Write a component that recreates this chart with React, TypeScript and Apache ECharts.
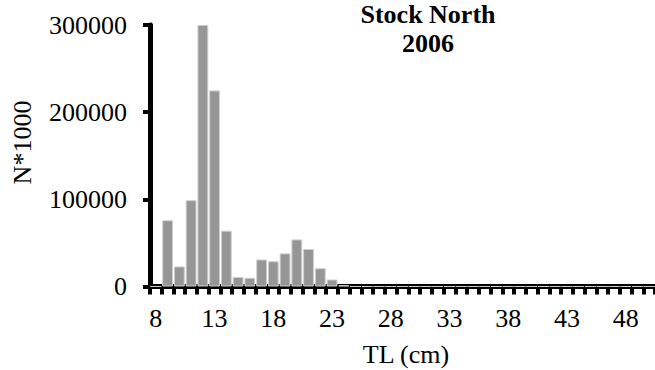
import React, { useEffect, useRef } from "react";
import * as echarts from "echarts";

const lengths = [
  "8", "9", "10", "11", "12", "13", "14", "15", "16", "17", "18", "19", "20", "21",
  "22", "23", "24", "25", "26", "27", "28", "29", "30", "31", "32", "33", "34", "35",
  "36", "37", "38", "39", "40", "41", "42", "43", "44", "45", "46", "47", "48", "49", "50",
];
const counts = [
  0, 76000, 23000, 99000, 300000, 225000, 64000, 11000, 10000, 31000, 29000, 38000,
  54000, 43000, 21000, 8000, 1500, 0, 0, 0, 0, 0, 0, 0, 0, 0, 0, 0, 0, 0, 0, 0, 0,
  0, 0, 0, 0, 0, 0, 0, 0, 0, 0,
];
const yTicks = [0, 100000, 200000, 300000];
const titleText = "Stock North\n2006";
const xName = "TL (cm)";
const yName = "N*1000";

const FONT = "'Liberation Serif', 'Times New Roman', serif";
const FS = 26;

export default function App() {
  const ref = useRef<HTMLDivElement>(null);
  useEffect(() => {
    if (!ref.current) return;
    const chart = echarts.init(ref.current, null, { renderer: "svg" });
    chart.setOption({
      animation: false,
      backgroundColor: "#ffffff",
      textStyle: { fontFamily: FONT, color: "#000" },
      grid: {
        left: 150,
        top: 25,
        width: 505,
        height: 261.5,
        containLabel: false,
        outerBoundsMode: "none",
      },
      graphic: [
        {
          type: "text",
          x: 428,
          y: 0,
          style: {
            text: titleText,
            align: "center",
            verticalAlign: "top",
            lineHeight: 29,
            font: `bold ${FS}px ${FONT}`,
            fill: "#000",
          },
        },
        {
          type: "text",
          x: 22,
          y: 142.5,
          rotation: Math.PI / 2,
          style: {
            text: yName,
            align: "center",
            verticalAlign: "middle",
            font: `${FS}px ${FONT}`,
            fill: "#000",
          },
        },
        {
          type: "text",
          x: 406,
          y: 354,
          style: {
            text: xName,
            align: "center",
            verticalAlign: "middle",
            font: `${FS}px ${FONT}`,
            fill: "#000",
          },
        },
      ],
      xAxis: {
        type: "category",
        data: lengths,
        boundaryGap: true,
        axisLine: { show: true, lineStyle: { color: "#000", width: 5 } },
        axisTick: { show: true, interval: 0, length: 8, lineStyle: { color: "#000", width: 4 } },
        axisLabel: { interval: 4, fontSize: FS, fontFamily: FONT, color: "#000", margin: 19 },
        splitLine: { show: false },
      },
      yAxis: {
        type: "value",
        min: yTicks[0],
        max: yTicks[yTicks.length - 1],
        interval: yTicks[1] - yTicks[0],
        axisLine: { show: true, lineStyle: { color: "#000", width: 5 } },
        axisTick: { show: true, length: 7, lineStyle: { color: "#000", width: 4 } },
        axisLabel: {
          fontSize: FS,
          fontFamily: FONT,
          color: "#000",
          margin: 23,
          formatter: (v: number) => String(v),
        },
        splitLine: { show: false },
      },
      series: [
        {
          type: "bar",
          data: counts,
          barCategoryGap: "8%",
          itemStyle: { color: "#969696", borderColor: "#cfcfcf", borderWidth: 1 },
        },
      ],
    });
    return () => chart.dispose();
  }, []);
  return (
    <div
      ref={ref}
      style={{ position: "fixed", left: 0, top: 0, width: 655, height: 370, background: "#fff" }}
    />
  );
}
